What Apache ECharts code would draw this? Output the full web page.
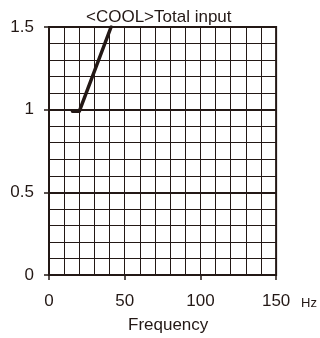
<!DOCTYPE html>
<html>
<head>
<meta charset="utf-8">
<script src="https://cdn.jsdelivr.net/npm/echarts@6/dist/echarts.min.js"></script>
<style>
  html, body { margin: 0; padding: 0; background: #fff; }
  #chart { width: 320px; height: 338px; }
</style>
</head>
<body>
<div id="chart"></div>
<script>
    // values
    var freq = [15.5, 20, 41];
    var totalInput = [0.99, 0.99, 1.5];
    var xTicks = [0, 50, 100, 150];
    var yTicks = [0, 0.5, 1, 1.5];

    var ink = '#231815';
    var font = 'Liberation Sans, Arial, sans-serif';

    var chartDom = document.getElementById('chart');
    var myChart = echarts.init(chartDom);
    var option = {
        animation: false,
        title: [{
            text: '<COOL>Total input',
            left: 86,
            top: 9,
            padding: 0,
            textStyle: { fontFamily: font, fontSize: 17, fontWeight: 'normal', color: ink }
        }, {
            text: 'Frequency',
            left: 128,
            top: 317,
            padding: 0,
            textStyle: { fontFamily: font, fontSize: 17, fontWeight: 'normal', color: ink }
        }],
        grid: {
            left: 49,
            right: 41,
            top: 27,
            bottom: 63,
            show: true,
            borderColor: ink,
            borderWidth: 2
        },
        xAxis: {
            type: 'value',
            min: xTicks[0],
            max: xTicks[xTicks.length - 1],
            interval: 50,
            name: 'Hz',
            nameLocation: 'end',
            nameGap: 25,
            nameTextStyle: {
                fontFamily: font, fontSize: 13, color: ink,
                verticalAlign: 'top', padding: [22, 0, 0, 0]
            },
            axisLine: { show: true, lineStyle: { color: ink, width: 2 } },
            axisTick: { show: true, length: 5, lineStyle: { color: ink, width: 1.5 } },
            axisLabel: { fontFamily: font, fontSize: 17, color: ink, margin: 18 },
            splitLine: { show: true, lineStyle: { color: ink, width: 1 } },
            minorSplitLine: { show: true, lineStyle: { color: ink, width: 1 } }
        },
        yAxis: {
            type: 'value',
            min: yTicks[0],
            max: yTicks[yTicks.length - 1],
            interval: 0.5,
            axisLine: { show: true, lineStyle: { color: ink, width: 2 } },
            axisTick: { show: true, length: 5, lineStyle: { color: ink, width: 1.5 } },
            axisLabel: { fontFamily: font, fontSize: 17, color: ink, margin: 15 },
            splitLine: { show: true, lineStyle: { color: ink, width: 2 } },
            minorSplitLine: { show: true, lineStyle: { color: ink, width: 1 } }
        },
        series: [{
            type: 'line',
            data: freq.map(function(f, i) { return [f, totalInput[i]]; }),
            showSymbol: false,
            lineStyle: { color: ink, width: 3.5, cap: 'round', join: 'round' }
        }]
    };
    myChart.setOption(option);
</script>
</body>
</html>
